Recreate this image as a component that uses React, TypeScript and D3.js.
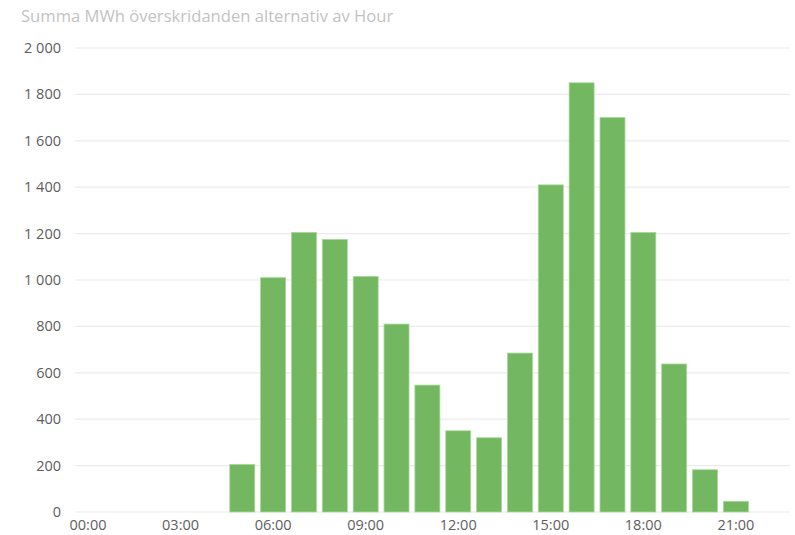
import React from 'react';
import * as d3 from 'd3';

const width = 795;
const height = 535;
const margin = { top: 48, right: 5, bottom: 23, left: 75 };

const hours = d3.range(0, 23);
const mwh = [0, 0, 0, 0, 0, 205, 1010, 1205, 1175, 1015, 810, 547, 350, 320, 685, 1410, 1850, 1700, 1205, 638, 182, 46, 0];
const yTicks = [0, 200, 400, 600, 800, 1000, 1200, 1400, 1600, 1800, 2000];
const xTickHours = [0, 3, 6, 9, 12, 15, 18, 21];

const title = 'Summa MWh överskridanden alternativ av Hour';
const font = "'Segoe UI', 'Open Sans', sans-serif";

const x = d3.scaleBand<number>()
  .domain(hours)
  .range([72.6, 72.6 + hours.length * 30.85])
  .paddingInner(0.19)
  .paddingOuter(0.095);

const y = d3.scaleLinear()
  .domain([0, 2000])
  .range([height - margin.bottom, margin.top]);

const fmt = (v: number) => d3.format(',')(v).replace(/,/g, ' ');
const hourLabel = (h: number) => `${String(h).padStart(2, '0')}:00`;

export default function App() {
  return (
    <svg width={width} height={height} style={{ position: 'absolute', left: 0, top: 0 }} fontFamily={font}>
      <rect width={width} height={height} fill='#fff' />
      <text x={21} y={22} fontSize={16.6} fill='#c3c3c3'>{title}</text>
      <g>
        {yTicks.map(t => (
          <g key={t}>
            <line x1={margin.left} x2={width - margin.right} y1={y(t)} y2={y(t)} stroke='#ececec' strokeWidth={1.2} />
            <text x={61} y={y(t)} dy='0.35em' textAnchor='end' fontSize={14.5} fill='#605e5c'>{fmt(t)}</text>
          </g>
        ))}
      </g>
      <g>
        {hours.map((h, i) => mwh[i] > 0 && (
          <rect
            key={h}
            x={x(h)!}
            y={y(mwh[i])}
            width={x.bandwidth()}
            height={y(0) - y(mwh[i])}
            fill='#73b761'
            stroke='#a9d79b'
            strokeWidth={0.8}
          />
        ))}
      </g>
      <g>
        {xTickHours.map(h => (
          <text key={h} x={x(h)! + x.bandwidth() / 2} y={530} textAnchor='middle' fontSize={14.5} fill='#605e5c'>{hourLabel(h)}</text>
        ))}
      </g>
    </svg>
  );
}
